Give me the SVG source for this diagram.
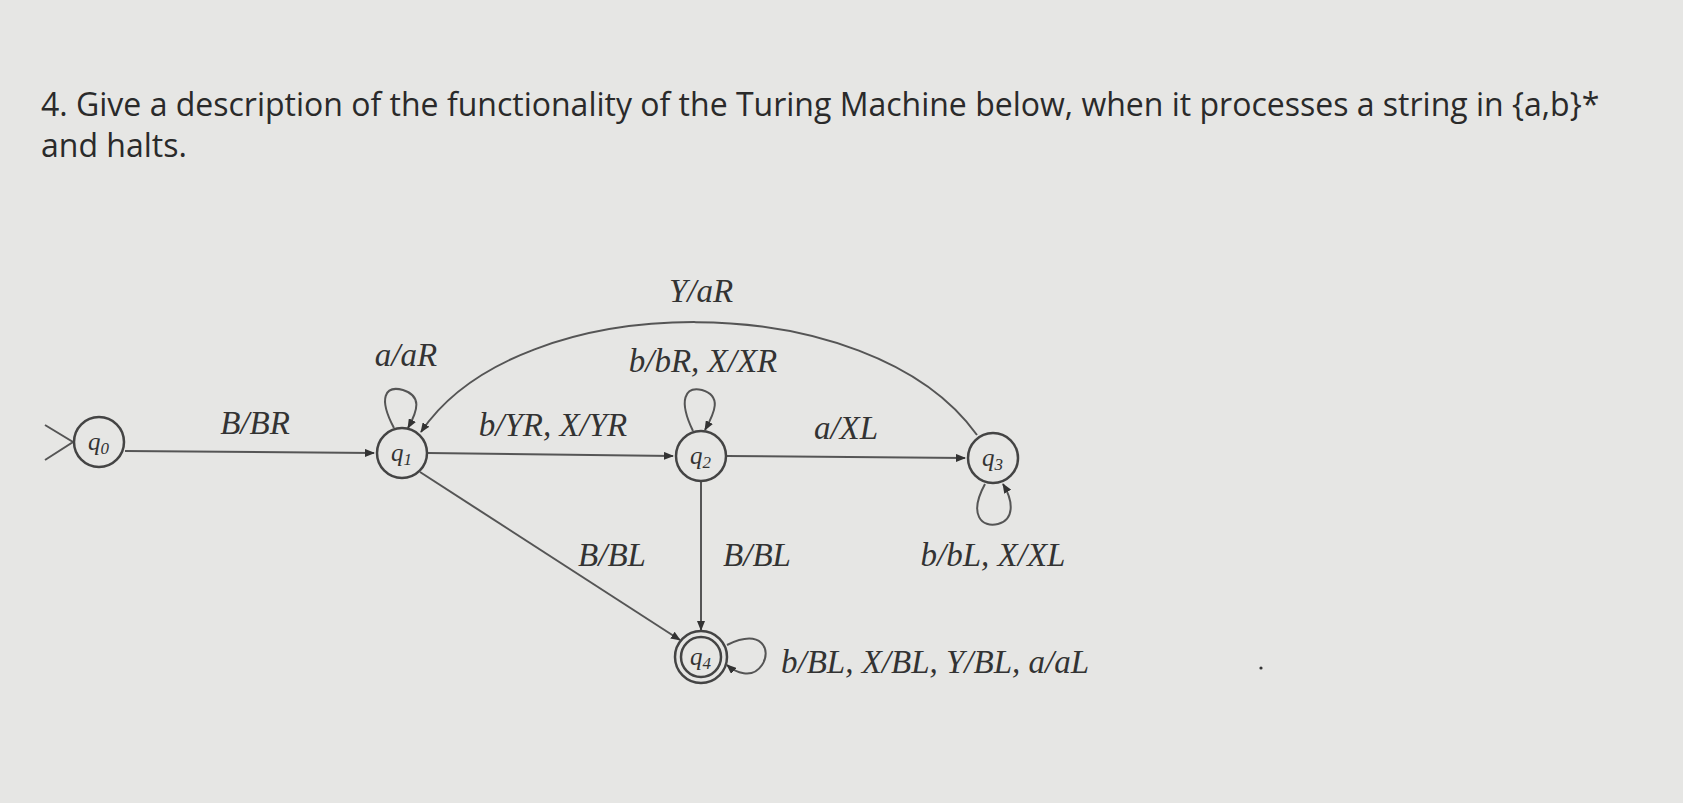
<svg xmlns="http://www.w3.org/2000/svg" width="1683" height="803" viewBox="0 0 1683 803">
<style>
.h{font-family:"Open Sans","Liberation Sans",sans-serif;font-size:32px;fill:#2a2a2a}
.l{font-family:"Liberation Serif",serif;font-style:italic;font-size:33px;fill:#333}
.s{font-family:"Liberation Serif",serif;font-style:italic;font-size:25px;fill:#333}
.c{fill:none;stroke:#444;stroke-width:2.5}
.e{fill:none;stroke:#555;stroke-width:2}
</style>
<defs><marker id="a" markerWidth="10" markerHeight="8" refX="9" refY="4" orient="auto" markerUnits="userSpaceOnUse"><path d="M0,0L10,4L0,8z" fill="#333"/></marker></defs>
<rect width="1683" height="803" fill="#e6e6e4"/>
<text class="h" x="41" y="116">4. Give a description of the functionality of the Turing Machine below, when it processes a string in {a,b}*</text>
<text class="h" x="41" y="157">and halts.</text>
<g id="connectors">
<path class="e" d="M45,425L73,442L45,460"/>
<path class="e" d="M125,451L374,453" marker-end="url(#a)"/>
<path class="e" d="M428,453L673,456" marker-end="url(#a)"/>
<path class="e" d="M727,456L965,458" marker-end="url(#a)"/>
<path class="e" d="M701,482L701,630" marker-end="url(#a)"/>
<path class="e" d="M420,472L680,640" marker-end="url(#a)"/>
<path class="e" d="M977,435C870,285,520,285,421,432" marker-end="url(#a)"/>
<path class="e" d="M394,428C378,398,385,385,403,390C422,396,418,410,408,428" marker-end="url(#a)"/>
<path class="e" d="M693,431C678,400,685,386,702,390C722,396,715,412,705,430" marker-end="url(#a)"/>
<path class="e" d="M985,484C968,515,982,528,998,524C1014,520,1014,502,1003,484" marker-end="url(#a)"/>
<path class="e" d="M727,645C762,628,772,650,762,665C752,680,735,672,727,665" marker-end="url(#a)"/>
</g>
<g id="q0"><ellipse class="c" cx="99" cy="442" rx="25" ry="25"/><text class="s" x="88" y="450">q<tspan font-size="17" dy="4">0</tspan></text></g>
<g id="q1"><ellipse class="c" cx="402" cy="453" rx="25" ry="25"/><text class="s" x="391" y="461">q<tspan font-size="17" dy="4">1</tspan></text></g>
<g id="q2"><ellipse class="c" cx="701" cy="456" rx="25" ry="25"/><text class="s" x="690" y="464">q<tspan font-size="17" dy="4">2</tspan></text></g>
<g id="q3"><ellipse class="c" cx="993" cy="458" rx="25" ry="25"/><text class="s" x="982" y="466">q<tspan font-size="17" dy="4">3</tspan></text></g>
<g id="q4"><ellipse class="c" cx="701" cy="657" rx="26" ry="26"/><ellipse class="c" cx="701" cy="657" rx="20" ry="20"/><text class="s" x="690" y="665">q<tspan font-size="17" dy="4">4</tspan></text></g>
<g id="labels">
<text class="l" x="701" y="302" text-anchor="middle">Y/aR</text>
<text class="l" x="406" y="366" text-anchor="middle">a/aR</text>
<text class="l" x="703" y="372" text-anchor="middle">b/bR, X/XR</text>
<text class="l" x="255" y="434" text-anchor="middle">B/BR</text>
<text class="l" x="553" y="436" text-anchor="middle">b/YR, X/YR</text>
<text class="l" x="846" y="439" text-anchor="middle">a/XL</text>
<text class="l" x="612" y="566" text-anchor="middle">B/BL</text>
<text class="l" x="757" y="566" text-anchor="middle">B/BL</text>
<text class="l" x="993" y="566" text-anchor="middle">b/bL, X/XL</text>
<text class="l" x="781" y="673">b/BL, X/BL, Y/BL, a/aL</text>
<circle cx="1261" cy="668" r="1.6" fill="#333"/>
</g>
</svg>
